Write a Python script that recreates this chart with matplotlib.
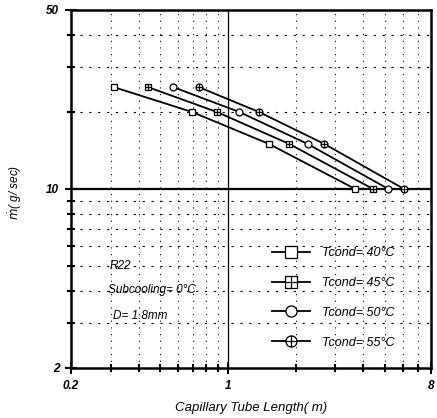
import matplotlib
matplotlib.use("Agg")
import matplotlib.pyplot as plt
from matplotlib.path import Path
from matplotlib.ticker import NullFormatter, FixedLocator

plt.rcParams['font.family'] = ['Liberation Sans', 'DejaVu Sans']

flow = [25, 20, 15, 10]              # mass flow rate (g/sec)
length_40 = [0.31, 0.69, 1.52, 3.68]  # capillary tube length (m)
length_45 = [0.44, 0.89, 1.87, 4.42]
length_50 = [0.57, 1.12, 2.26, 5.17]
length_55 = [0.74, 1.37, 2.68, 6.07]
labels = ["Tcond= 40°C", "Tcond= 45°C", "Tcond= 50°C", "Tcond= 55°C"]

x_major = [0.2, 1, 8]
x_minor = [0.3, 0.4, 0.5, 0.6, 0.7, 0.8, 0.9, 2, 3, 4, 5, 6, 7]
y_major = [2, 10, 50]
y_minor = [3, 4, 5, 6, 7, 8, 9, 20, 30, 40]

# markers: square, square with cross, circle, circle with cross
sq_plus = Path([(-1, -1), (1, -1), (1, 1), (-1, 1), (-1, -1),
                (0, -1), (0, 1), (-1, 0), (1, 0)],
               [Path.MOVETO, Path.LINETO, Path.LINETO, Path.LINETO, Path.CLOSEPOLY,
                Path.MOVETO, Path.LINETO, Path.MOVETO, Path.LINETO])
circ = Path.circle((0, 0), 1)
circ_plus = Path.make_compound_path(
    circ,
    Path([(0, -1), (0, 1)], [Path.MOVETO, Path.LINETO]),
    Path([(-1, 0), (1, 0)], [Path.MOVETO, Path.LINETO]))
markers = ['s', sq_plus, 'o', circ_plus]

fig = plt.figure(figsize=(4.37, 4.18), dpi=100)
ax = fig.add_axes([71 / 437, 50 / 418, 360 / 437, 358 / 418])

for xs, mk, lab in zip([length_40, length_45, length_50, length_55], markers, labels):
    ax.plot(xs, flow, color='black', lw=1.3, marker=mk, ms=5,
            mfc='white', mec='black', mew=0.9, label=lab, zorder=3)

ax.set_xscale('log')
ax.set_yscale('log')
ax.set_xlim(0.2, 8)
ax.set_ylim(2, 50)

ax.xaxis.set_major_locator(FixedLocator(x_major))
ax.xaxis.set_minor_locator(FixedLocator(x_minor))
ax.yaxis.set_major_locator(FixedLocator(y_major))
ax.yaxis.set_minor_locator(FixedLocator(y_minor))
ax.set_xticklabels(['0.2', '1', '8'])
ax.set_yticklabels(['2', '10', '50'])
ax.xaxis.set_minor_formatter(NullFormatter())
ax.yaxis.set_minor_formatter(NullFormatter())

for t in ax.get_xticklabels() + ax.get_yticklabels():
    t.set_fontsize(8.5)
    t.set_fontweight('bold')
    t.set_fontstyle('italic')
ax.tick_params(which='major', direction='inout', length=9, width=1.5, pad=4)
ax.tick_params(which='minor', direction='inout', length=6, width=1.5)

for s in ax.spines.values():
    s.set_linewidth(1.8)

# grid: dotted verticals, dashed horizontals, solid at 1 m and 10 g/s
for xv in x_minor:
    ax.axvline(xv, color='black', lw=0.8, ls=(0, (1, 5)), zorder=1)
for yv in y_minor:
    ax.axhline(yv, color='black', lw=0.8, ls=(0, (2, 6)), zorder=1)
ax.axvline(1, color='black', lw=0.9, zorder=2)
ax.axhline(10, color='black', lw=1.6, zorder=2)

ax.set_xlabel('Capillary Tube Length( m)', fontsize=9.5, fontstyle='italic', labelpad=7)
fig.text(15 / 437, 1 - 192 / 418, r'$\dot{m}$( g/ sec)', rotation=90,
         fontsize=8.5, fontstyle='italic', ha='center', va='center')

ax.text(0.298, 5.0, 'R22', fontsize=8.5, fontstyle='italic', va='center')
ax.text(0.293, 4.03, 'Subcooling= 0°C', fontsize=8.5, fontstyle='italic', va='center')
ax.text(0.307, 3.2, 'D= 1.8mm', fontsize=8.5, fontstyle='italic', va='center')

leg = ax.legend(loc='upper left', bbox_to_anchor=(190 / 360, 1 - 226 / 358),
                frameon=False, markerscale=1.6, handlelength=3.0,
                handletextpad=1.0, labelspacing=1.42,
                prop=dict(size=9, style='italic'))

fig.savefig('out.png', dpi=100)
